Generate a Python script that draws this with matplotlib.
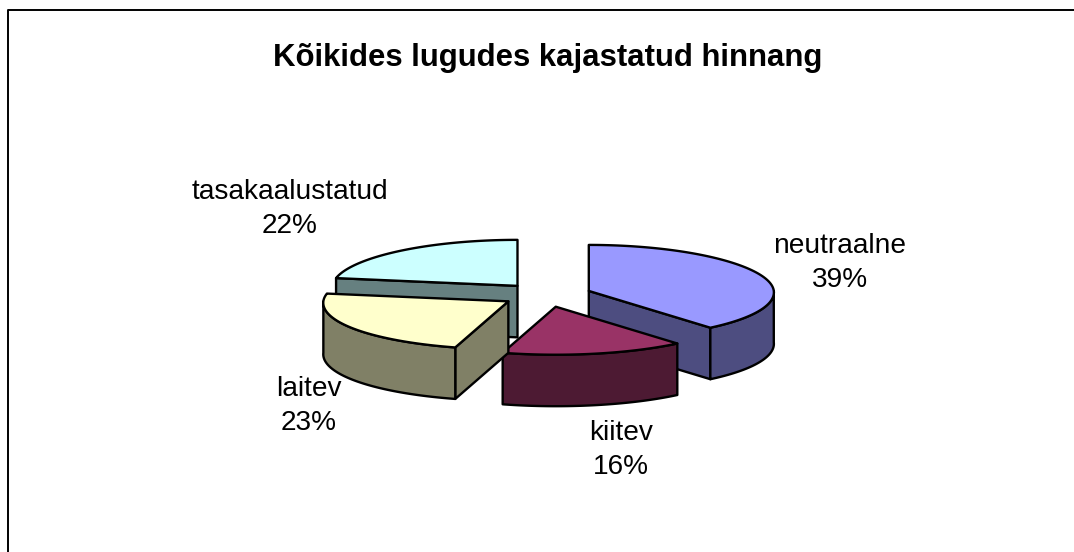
import numpy as np
import matplotlib
matplotlib.use("Agg")
import matplotlib.pyplot as plt

# --- Data ---
CATEGORIES = ["neutraalne", "kiitev", "laitev", "tasakaalustatud"]
SHARES = [38.9, 15.6, 23.2, 22.3]
TOP_COLORS = ["#9999FF", "#993366", "#FFFFCC", "#CCFFFF"]
TITLE = "Kõikides lugudes kajastatud hinnang"

# --- Pie geometry, in pixels of the 1074x552 canvas ---
CENTER = (546.5, 295.0)
RX = 185.0
RY_BACK, RY_FRONT = 46.0, 48.0  # the near half looks a bit bigger
PERSPECTIVE = 0.03
DEPTH = 51.5
EXPLODE = 0.25
LABEL_POS = [(840, 263), (621, 450), (309, 406), (290, 209)]
DRAW_ORDER = [3, 0, 1, 2]  # back to front

plt.rcParams["font.family"] = ["Liberation Sans", "DejaVu Sans"]


def arc(apex, a0, a1):
    # angles in degrees, clockwise from 12 o'clock
    t = np.radians(np.linspace(a0, a1, 120))
    c = np.cos(t)
    ry = np.where(c < 0, RY_FRONT, RY_BACK)
    return apex[0] + RX * np.sin(t) * (1 - PERSPECTIVE * c), apex[1] - ry * c


def side_color(color):
    rgb = np.array(matplotlib.colors.to_rgb(color))
    return tuple(rgb * 0.5)


def draw_face(ax, xs, ys, color):
    ax.fill(xs, ys, facecolor=color, edgecolor="black", linewidth=1.7, joinstyle="round")


def draw_slice(ax, a0, a1, color):
    mid = np.radians((a0 + a1) / 2)
    apex = (CENTER[0] + EXPLODE * 0.973 * RX * np.sin(mid),
            CENTER[1] - EXPLODE * 1.04 * RY_BACK * np.cos(mid))
    dark = side_color(color)

    # flat cut faces, only those turned to the viewer
    for ang, visible in ((a0, np.sin(np.radians(a0)) < -1e-6),
                         (a1, np.sin(np.radians(a1)) > 1e-6)):
        if visible:
            ex, ey = arc(apex, ang, ang)
            xs = [apex[0], ex[0], ex[0], apex[0]]
            ys = [apex[1], ey[0], ey[0] + DEPTH, apex[1] + DEPTH]
            draw_face(ax, xs, ys, dark)

    # outer wall
    lo, hi = max(a0, 90), min(a1, 270)
    if lo < hi:
        x, y = arc(apex, lo, hi)
        xs = np.concatenate([x, x[::-1]])
        ys = np.concatenate([y, y[::-1] + DEPTH])
        draw_face(ax, xs, ys, dark)

    # top face
    x, y = arc(apex, a0, a1)
    draw_face(ax, np.r_[apex[0], x], np.r_[apex[1], y], color)


def main():
    fig = plt.figure(figsize=(10.74, 5.52), dpi=100)
    ax = fig.add_axes([0, 0, 1, 1])
    ax.set_xlim(0, 1074)
    ax.set_ylim(552, 0)
    ax.axis("off")

    # chart frame, cut off by the right and bottom of the picture
    ax.plot([8, 8, 1074], [552, 10, 10], color="black", linewidth=1.4)

    edges = np.concatenate([[0], np.cumsum(SHARES)]) / sum(SHARES) * 360
    for i in DRAW_ORDER:
        draw_slice(ax, edges[i], edges[i + 1], TOP_COLORS[i])

    for name, share, (x, y) in zip(CATEGORIES, SHARES, LABEL_POS):
        ax.text(x, y, f"{name}\n{share:.0f}%", ha="center", va="center",
                fontsize=20.2, linespacing=1.37)

    ax.text(548, 58, TITLE, ha="center", va="center", fontsize=22.4, fontweight="bold")

    fig.savefig("out.png", dpi=100)


if __name__ == "__main__":
    main()
